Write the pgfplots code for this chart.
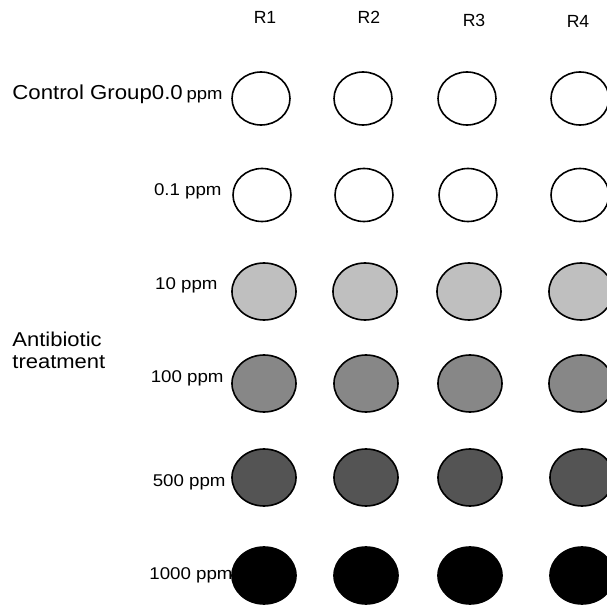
\documentclass[border=0pt]{standalone}
\usepackage{pgfplots}
\pgfplotsset{compat=1.18}
\usepackage{fontspec}
\setmainfont{Liberation Sans}

\definecolor{dose0}{HTML}{FFFFFF}
\definecolor{dose10}{HTML}{BFBFBF}
\definecolor{dose100}{HTML}{878787}
\definecolor{dose500}{HTML}{545454}
\definecolor{dose1000}{HTML}{000000}

% the source image is stretched sideways a little
\newcommand{\wide}[1]{\scalebox{1.1}[1]{#1}}

\begin{document}
\begin{tikzpicture}
\begin{axis}[
    width=303.5pt, height=302.5pt, scale only axis,
    xmin=0, xmax=607, ymin=0, ymax=605, y dir=reverse,
    hide axis, clip=false,
]
% small wells (rows 1-2), larger wells (rows 3-6)
\addplot[only marks, mark=*, mark size=13.25pt,
    mark options={xscale=1.094, draw=black, fill=dose0, line width=0.8pt}]
    coordinates {(261,98.5) (363,98.5) (467,98.5) (580,98.5)};
\addplot[only marks, mark=*, mark size=13.25pt,
    mark options={xscale=1.094, draw=black, fill=dose0, line width=0.8pt}]
    coordinates {(262,195) (364,195) (468,195) (580,195)};
\addplot[only marks, mark=*, mark size=14.25pt,
    mark options={xscale=1.123, draw=black, fill=dose10, line width=0.8pt}]
    coordinates {(264,291.5) (365,291.5) (469,291.5) (581,291.5)};
\addplot[only marks, mark=*, mark size=14.25pt,
    mark options={xscale=1.123, draw=black, fill=dose100, line width=0.8pt}]
    coordinates {(264,383.5) (366,383.5) (470,383.5) (581,383.5)};
\addplot[only marks, mark=*, mark size=14.25pt,
    mark options={xscale=1.123, draw=black, fill=dose500, line width=0.8pt}]
    coordinates {(264,477.5) (366,477.5) (470,477.5) (582,477.5)};
\addplot[only marks, mark=*, mark size=14.25pt,
    mark options={xscale=1.123, draw=black, fill=dose1000, line width=0.8pt}]
    coordinates {(264,575.5) (366,575.5) (470,575.5) (582,575.5)};

% column headers
\node[font=\fontsize{8.8}{10}\selectfont] at (axis cs:265,17) {R1};
\node[font=\fontsize{8.8}{10}\selectfont] at (axis cs:369,17) {R2};
\node[font=\fontsize{8.8}{10}\selectfont] at (axis cs:474,20) {R3};
\node[font=\fontsize{8.8}{10}\selectfont] at (axis cs:578,21) {R4};

% row labels
\node[anchor=base west, inner sep=0pt, font=\fontsize{10.1}{12}\selectfont] at (axis cs:12,99) {\wide{Control Group0.0}};
\node[anchor=base west, inner sep=0pt, font=\fontsize{10}{12}\selectfont] at (axis cs:12,346) {\wide{Antibiotic}};
\node[anchor=base west, inner sep=0pt, font=\fontsize{10}{12}\selectfont] at (axis cs:12,368) {\wide{treatment}};

\node[anchor=base east, inner sep=0pt, font=\fontsize{8.4}{10}\selectfont] at (axis cs:223,99) {\wide{ppm}};
\node[anchor=base east, inner sep=0pt, font=\fontsize{8.5}{10}\selectfont] at (axis cs:222,196) {\wide{0.1 ppm}};
\node[anchor=base east, inner sep=0pt, font=\fontsize{8.5}{10}\selectfont] at (axis cs:218,290) {\wide{10 ppm}};
\node[anchor=base east, inner sep=0pt, font=\fontsize{8.5}{10}\selectfont] at (axis cs:224,383) {\wide{100 ppm}};
\node[anchor=base east, inner sep=0pt, font=\fontsize{8.5}{10}\selectfont] at (axis cs:226,487) {\wide{500 ppm}};
\node[anchor=base east, inner sep=0pt, font=\fontsize{8.5}{10}\selectfont] at (axis cs:233,580) {\wide{1000 ppm}};
\end{axis}
\pgfresetboundingbox
\path (current axis.south west) rectangle (current axis.north east);
\end{tikzpicture}
\end{document}
